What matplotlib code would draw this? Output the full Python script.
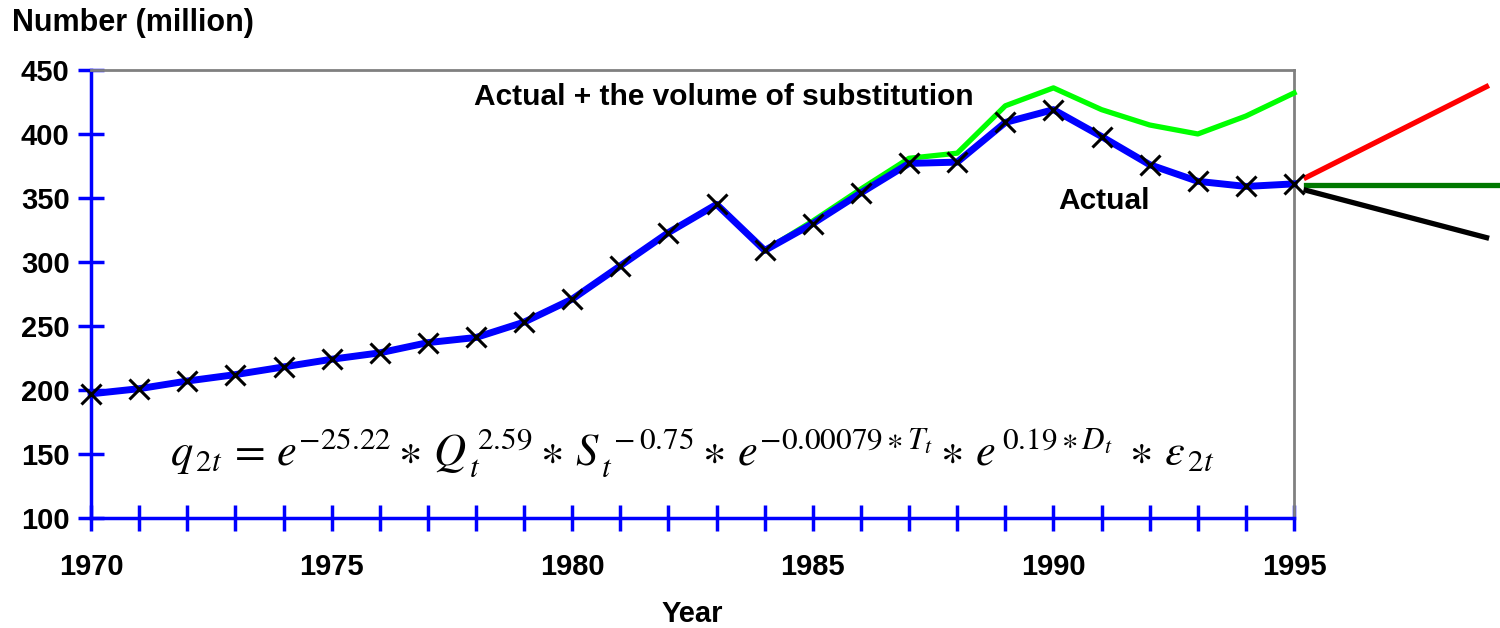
import matplotlib
matplotlib.use("Agg")
from matplotlib import pyplot as plt

years = list(range(1970, 1996))
actual = [197, 201, 207, 212, 218, 224, 229, 237, 241, 253, 271, 297, 323, 345, 309,
          330, 354, 377, 378, 409, 419, 398, 376, 363, 359, 361]
substituted = [197, 201, 207, 212, 218, 224, 229, 237, 241, 253, 271, 297, 323, 345, 309,
               332, 357, 381, 385, 422, 436, 419, 407, 400, 414, 432]

proj_years = [1995.25, 1999.0]
proj_high = [366, 437]
proj_low = [356, 319]
proj_flat_years = [1995.25, 2000.0]
proj_flat = [360, 360]

y_ticks = [100, 150, 200, 250, 300, 350, 400, 450]
x_ticks = list(range(1970, 1996))
x_labels = [str(y) if y % 5 == 0 else "" for y in x_ticks]

plt.rcParams["font.family"] = ["Liberation Sans", "DejaVu Sans"]
plt.rcParams["mathtext.fontset"] = "stix"

fig = plt.figure(figsize=(15, 6.28), dpi=100)
ax = fig.add_axes([0.0607, 0.1752, 0.802, 0.7134])

ax.plot(years, substituted, color="#00ff00", linewidth=3.8, zorder=3, clip_on=False)
ax.plot(years, actual, color="#0000ff", linewidth=5, zorder=4, clip_on=False)
ax.plot(years, actual, linestyle="None", marker="x", markersize=14, markeredgewidth=2.2,
        color="black", zorder=5, clip_on=False)

ax.plot(proj_years, proj_high, color="#ff0000", linewidth=3.8, clip_on=False)
ax.plot(proj_flat_years, proj_flat, color="#007800", linewidth=3.8, clip_on=False)
ax.plot(proj_years, proj_low, color="black", linewidth=3.8, clip_on=False)

ax.set_xlim(1970, 1995)
ax.set_ylim(100, 450)
ax.set_xticks(x_ticks)
ax.set_xticklabels(x_labels)
ax.set_yticks(y_ticks)

for side in ["left", "bottom"]:
    ax.spines[side].set_color("#0000ff")
    ax.spines[side].set_linewidth(2.5)
for side in ["top", "right"]:
    ax.spines[side].set_color("#808080")
    ax.spines[side].set_linewidth(2)

ax.tick_params(axis="both", direction="inout", length=19, width=2.5, color="#0000ff",
               labelsize=21)
ax.tick_params(axis="x", pad=16)
ax.tick_params(axis="y", pad=6)
for lab in ax.get_xticklabels() + ax.get_yticklabels():
    lab.set_fontweight("bold")

ax.text(1977.95, 429, "Actual + the volume of substitution", fontsize=21.5,
        fontweight="bold", ha="left", va="center")
ax.text(1990.1, 348, "Actual", fontsize=21.5, fontweight="bold", ha="left", va="center")

ax.text(1982.5, 151,
        r"$q_{\,2t}\,=\,e^{-25.22}\ast\,Q_{\,t}^{\;2.59}\ast\,S_{\,t}^{\;-0.75}\ast\,"
        r"e^{-0.00079\ast T_t}\ast\,e^{\,0.19\ast D_t}\;\ast\,\varepsilon_{\,2t}$",
        fontsize=32, ha="center", va="center")

fig.text(0.008, 0.963, "Number (million)", fontsize=22, fontweight="bold",
         ha="left", va="center")
fig.text(0.4617, 0.023, "Year", fontsize=21, fontweight="bold", ha="center", va="center")

fig.savefig("out.png", dpi=100)
